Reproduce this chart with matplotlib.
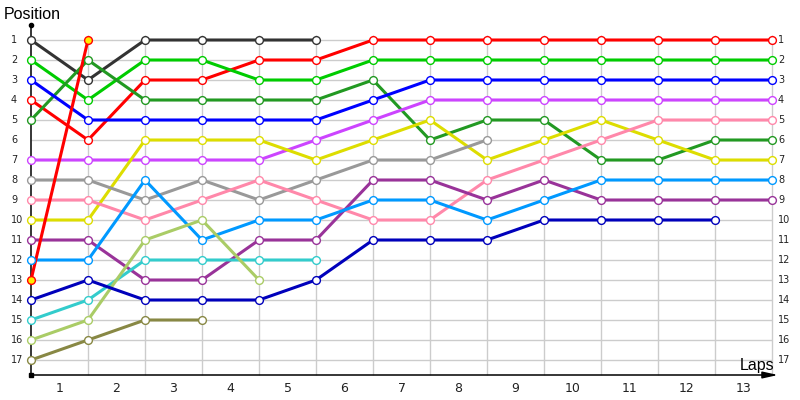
import matplotlib
matplotlib.use("Agg")
import matplotlib.pyplot as plt

# ---- data ----
laps = list(range(0, 14))          # lap index 0..13 (0 = grid)
lap_labels = [str(i) for i in range(1, 14)]
positions = list(range(1, 18))

series = [
    # (color, marker face, positions by lap starting at lap 0)
    ("#333333", "white", [1, 3, 1, 1, 1, 1]),
    ("#ff0000", "white", [4, 6, 3, 3, 2, 2, 1, 1, 1, 1, 1, 1, 1, 1]),
    ("#00cc00", "white", [2, 4, 2, 2, 3, 3, 2, 2, 2, 2, 2, 2, 2, 2]),
    ("#229922", "white", [5, 2, 4, 4, 4, 4, 3, 6, 5, 5, 7, 7, 6, 6]),
    ("#0000ff", "white", [3, 5, 5, 5, 5, 5, 4, 3, 3, 3, 3, 3, 3, 3]),
    ("#cc44ff", "white", [7, 7, 7, 7, 7, 6, 5, 4, 4, 4, 4, 4, 4, 4]),
    ("#dddd00", "white", [10, 10, 6, 6, 6, 7, 6, 5, 7, 6, 5, 6, 7, 7]),
    ("#999999", "white", [8, 8, 9, 8, 9, 8, 7, 7, 6]),
    ("#ff88aa", "white", [9, 9, 10, 9, 8, 9, 10, 10, 8, 7, 6, 5, 5, 5]),
    ("#993399", "white", [11, 11, 13, 13, 11, 11, 8, 8, 9, 8, 9, 9, 9, 9]),
    ("#0099ff", "white", [12, 12, 8, 11, 10, 10, 9, 9, 10, 9, 8, 8, 8, 8]),
    ("#33cccc", "white", [15, 14, 12, 12, 12, 12]),
    ("#aacc66", "white", [16, 15, 11, 10, 13]),
    ("#0000bb", "white", [14, 13, 14, 14, 14, 13, 11, 11, 11, 10, 10, 10, 10]),
    ("#888844", "white", [17, 16, 15, 15]),
    ("#ff0000", "#ffee00", [13, 1]),
]

# ---- figure: axes cover whole figure, data coords map to pixels ----
fig = plt.figure(figsize=(8, 4), dpi=100)
ax = fig.add_axes([0, 0, 1, 1])
ax.set_xlim(-31 / 57, 769 / 57)
ax.set_ylim(19, -1)
ax.axis("off")

grid_c = "#cccccc"
ax.hlines(positions, 0, laps[-1], colors=grid_c, lw=1, zorder=1)
ax.vlines(laps[1:], 0.75, 17.75, colors=grid_c, lw=1, zorder=1)

# axes lines
ax.plot([0, 0], [0.25, 17.75], color="black", lw=1.1, zorder=2)
ax.plot([0], [0.25], marker="o", ms=3, color="black", zorder=2)
ax.plot([0], [17.75], marker="s", ms=2.5, color="black", zorder=2)
ax.annotate("", xy=(747 / 57, 17.75), xytext=(0, 17.75),
            arrowprops=dict(arrowstyle="-|>,head_length=0.9,head_width=0.2",
                            color="black", lw=1.1, shrinkA=0, shrinkB=0),
            zorder=2)

# series
for color, face, pos in series:
    xs = laps[:len(pos)]
    ax.plot(xs, pos, color=color, lw=2.2, zorder=3, solid_capstyle="butt")
    ax.plot(xs, pos, ls="none", marker="o", ms=5.6, mfc=face, mec=color,
            mew=1.0, zorder=4)

# tick labels
for p in positions:
    ax.text(-20 / 57, p, str(p), ha="left", va="center", fontsize=7,
            color="#222222", family="DejaVu Sans")
    ax.text(laps[-1] + 6 / 57, p, str(p), ha="left", va="center", fontsize=7,
            color="#222222", family="DejaVu Sans")
for i, lab in enumerate(lap_labels):
    ax.text(i + 0.5, 18.42, lab, ha="center", va="center", fontsize=9,
            color="#222222", family="DejaVu Sans")

ax.text(-27 / 57, -0.05, "Position", ha="left", va="baseline", fontsize=11.5,
        family="Liberation Sans", color="black")
ax.text(743 / 57, 17.5, "Laps", ha="right", va="baseline",
        fontsize=11.5, family="Liberation Sans", color="black")

fig.savefig("out.png", dpi=100)
